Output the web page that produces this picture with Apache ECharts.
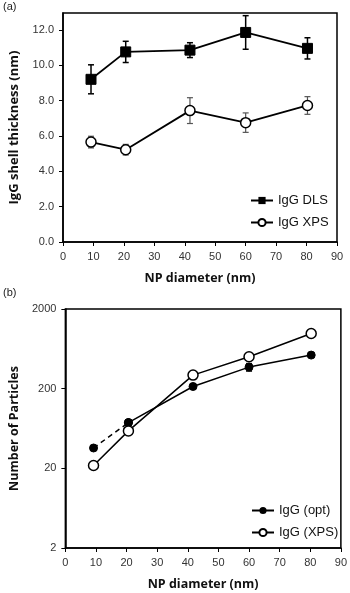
<!DOCTYPE html>
<html>
<head>
<meta charset="utf-8">
<script src="https://cdn.jsdelivr.net/npm/echarts@6/dist/echarts.min.js"></script>
<style>
  html, body { margin: 0; padding: 0; background: #fff; }
  #chart { width: 350px; height: 593px; }
</style>
</head>
<body>
<div id="chart"></div>
<script>
// (a) shell thickness vs NP diameter
var diamA = [9.2, 20.6, 41.7, 60.0, 80.3];
var dlsVal = [9.2, 10.75, 10.85, 11.85, 10.95];
var dlsErr = [0.82, 0.6, 0.42, 0.95, 0.6];
var xpsVal = [5.65, 5.22, 7.43, 6.75, 7.72];
var xpsErr = [0.33, 0.3, 0.73, 0.55, 0.5];

// (b) number of particles (log scale)
var diamB = [9.2, 20.6, 41.7, 60.0, 80.3];
var optVal = [36, 75, 213, 373, 528];
var optErr = [0, 0, 0, 40, 0];
var xpsCount = [21.7, 59, 296, 503, 986];

var yTicksB = [2, 20, 200, 2000];

var chart = echarts.init(document.getElementById('chart'));

function pairs(xs, ys) {
    return xs.map(function (x, i) { return [x, ys[i]]; });
}

// vertical error bar with caps
function errBar(color, width) {
    return function (params, api) {
        var x = api.value(0), y = api.value(1), e = api.value(2);
        if (!e) return null;
        var hi = api.coord([x, y + e]);
        var lo = api.coord([x, y - e]);
        var st = { stroke: color, lineWidth: width };
        return {
            type: 'group',
            children: [
                { type: 'line', shape: { x1: hi[0], y1: hi[1], x2: lo[0], y2: lo[1] }, style: st },
                { type: 'line', shape: { x1: hi[0] - 3, y1: hi[1], x2: hi[0] + 3, y2: hi[1] }, style: st },
                { type: 'line', shape: { x1: lo[0] - 3, y1: lo[1], x2: lo[0] + 3, y2: lo[1] }, style: st }
            ]
        };
    };
}

var tickLabel = { color: '#333', fontSize: 11, fontFamily: 'Liberation Sans', margin: 9 };
var axisName = { color: '#111', fontSize: 12.5, fontWeight: 'bold', fontFamily: 'Open Sans' };
var blackLine = { lineStyle: { color: '#000', width: 1.5 } };
var legendText = { fontSize: 13, fontFamily: 'Liberation Sans', color: '#111' };

var option = {
    animation: false,
    backgroundColor: '#fff',
    graphic: [
        { type: 'text', left: 3, top: 1, style: { text: '(a)', fontSize: 11, fontFamily: 'Liberation Sans', fill: '#222' } },
        { type: 'text', left: 3, top: 287, style: { text: '(b)', fontSize: 11, fontFamily: 'Liberation Sans', fill: '#222' } }
    ],
    grid: [
        { left: 58, top: 13, width: 279, height: 229, show: true, borderColor: '#000', borderWidth: 1.5 },
        { left: 55, top: 309, width: 288, height: 239, show: true, borderColor: '#000', borderWidth: 1.5 }
    ],
    legend: [
        {
            orient: 'vertical', left: 245, top: 189, itemGap: 9, itemWidth: 22, itemHeight: 9,
            textStyle: legendText,
            data: ['IgG DLS', 'IgG XPS']
        },
        {
            orient: 'vertical', left: 246, top: 499, itemGap: 9, itemWidth: 22, itemHeight: 9,
            textStyle: legendText,
            data: ['IgG (opt)', 'IgG (XPS)']
        }
    ],
    xAxis: [
        {
            gridIndex: 0, type: 'value', min: 0, max: 90, interval: 10,
            name: 'NP diameter (nm)', nameLocation: 'middle', nameGap: 30, nameTextStyle: axisName,
            axisLine: blackLine, axisTick: { length: 4, lineStyle: { color: '#000' } },
            axisLabel: tickLabel, splitLine: { show: false }
        },
        {
            gridIndex: 1, type: 'value', min: 0, max: 90, interval: 10,
            name: 'NP diameter (nm)', nameLocation: 'middle', nameGap: 30, nameTextStyle: axisName,
            axisLine: blackLine, axisTick: { length: 4, lineStyle: { color: '#000' } },
            axisLabel: tickLabel, splitLine: { show: false }
        }
    ],
    yAxis: [
        {
            gridIndex: 0, type: 'value', min: 0, max: 12.95, interval: 2,
            name: 'IgG shell thickness (nm)', nameLocation: 'middle', nameGap: 42,
            nameTextStyle: Object.assign({}, axisName, { fontSize: 13 }),
            axisLine: blackLine, axisTick: { length: 4, lineStyle: { color: '#000' } },
            axisLabel: Object.assign({ showMaxLabel: false, formatter: function (v) { return v.toFixed(1); } }, tickLabel),
            splitLine: { show: false }
        },
        {
            gridIndex: 1, type: 'log', logBase: 10, min: 2, max: 2000, interval: 1,
            name: 'Number of Particles', nameLocation: 'middle', nameGap: 42, nameTextStyle: axisName,
            axisLine: blackLine, axisTick: { length: 4, lineStyle: { color: '#000' } },
            axisLabel: Object.assign({
                formatter: function (v) {
                    var best = yTicksB.reduce(function (a, b) { return Math.abs(b - v) < Math.abs(a - v) ? b : a; });
                    return String(best);
                }
            }, tickLabel),
            splitLine: { show: false }
        }
    ],
    series: [
        {
            type: 'custom', xAxisIndex: 0, yAxisIndex: 0, z: 1,
            renderItem: errBar('#000', 1.5),
            data: diamA.map(function (x, i) { return [x, dlsVal[i], dlsErr[i]]; })
        },
        {
            type: 'custom', xAxisIndex: 0, yAxisIndex: 0, z: 1,
            renderItem: errBar('#555', 1.2),
            data: diamA.map(function (x, i) { return [x, xpsVal[i], xpsErr[i]]; })
        },
        {
            type: 'custom', xAxisIndex: 1, yAxisIndex: 1, z: 1,
            renderItem: errBar('#000', 1.5),
            data: diamB.map(function (x, i) { return [x, optVal[i], optErr[i]]; })
        },
        {
            name: 'IgG DLS', type: 'line', xAxisIndex: 0, yAxisIndex: 0, z: 3,
            symbol: 'rect', symbolSize: 10,
            lineStyle: { color: '#000', width: 1.8 },
            itemStyle: { color: '#000', borderColor: '#000' },
            data: pairs(diamA, dlsVal)
        },
        {
            name: 'IgG XPS', type: 'line', xAxisIndex: 0, yAxisIndex: 0, z: 3,
            symbol: 'circle', symbolSize: 10, showAllSymbol: true,
            lineStyle: { color: '#000', width: 1.8 },
            itemStyle: { color: '#fff', borderColor: '#000', borderWidth: 1.5 },
            data: pairs(diamA, xpsVal)
        },
        {
            name: 'IgG (opt)', type: 'line', xAxisIndex: 1, yAxisIndex: 1, z: 3,
            symbol: 'circle', symbolSize: 8,
            lineStyle: { color: '#000', width: 1.5 },
            itemStyle: { color: '#000', borderColor: '#000' },
            data: pairs(diamB.slice(1), optVal.slice(1))
        },
        {
            name: 'IgG (opt)', type: 'line', xAxisIndex: 1, yAxisIndex: 1, z: 3,
            symbol: 'circle', symbolSize: 8,
            lineStyle: { color: '#000', width: 1.5, type: [5, 4] },
            itemStyle: { color: '#000', borderColor: '#000' },
            data: pairs(diamB.slice(0, 2), optVal.slice(0, 2))
        },
        {
            name: 'IgG (XPS)', type: 'line', xAxisIndex: 1, yAxisIndex: 1, z: 4,
            symbol: 'circle', symbolSize: 10,
            lineStyle: { color: '#000', width: 1.5 },
            itemStyle: { color: '#fff', borderColor: '#000', borderWidth: 1.5 },
            data: pairs(diamB, xpsCount)
        }
    ]
};

chart.setOption(option);
</script>
</body>
</html>
